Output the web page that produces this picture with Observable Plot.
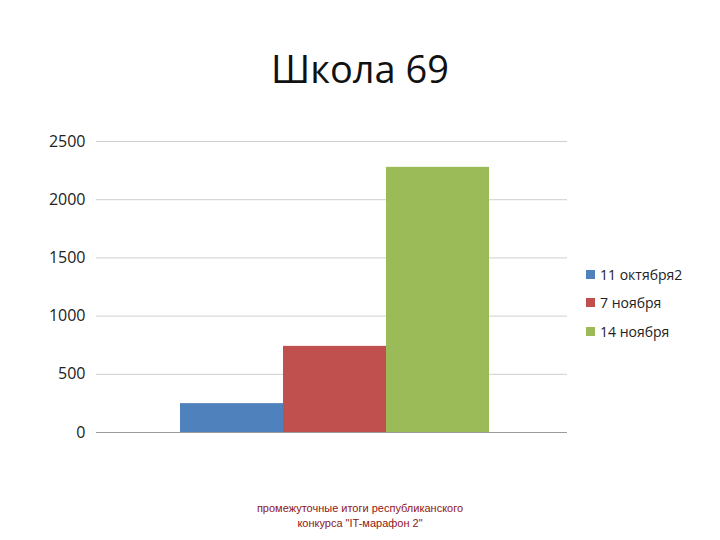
<!DOCTYPE html>
<html>
<head>
<meta charset="utf-8">
<script src="https://cdn.jsdelivr.net/npm/d3@7"></script>
<script src="https://cdn.jsdelivr.net/npm/@observablehq/plot@0.6"></script>
<style>
  html, body { margin: 0; padding: 0; background: #fff; }
  #page { position: relative; width: 720px; height: 540px; font-family: "Open Sans", "DejaVu Sans", sans-serif; }
  #title { position: absolute; left: 0; width: 720px; top: 42px; text-align: center; font-size: 38px; color: #111; }
  #chart { position: absolute; left: 0; top: 120px; }
  #legend { position: absolute; left: 586px; top: 260px; font-size: 14px; color: #222; }
  .li { display: flex; align-items: center; height: 28.5px; }
  .sw { width: 9px; height: 9px; margin-right: 5px; }
  #caption { position: absolute; left: 0; width: 720px; top: 501px; text-align: center; font-size: 11px; line-height: 15px; color: #8f1616; font-family: "Liberation Sans", Arial, sans-serif; }
</style>
</head>
<body>
<div id="page">
  <div id="title">Школа 69</div>
  <div id="chart"></div>
  <div id="legend"></div>
  <div id="caption">промежуточные итоги республиканского<br>конкурса "IT-марафон 2"</div>
</div>
<script>
const series = ["11 октября2", "7 ноября", "14 ноября"];
const values = [248, 740, 2278];
const colors = ["#4F81BD", "#C0504D", "#9BBB59"];
const yTicks = [0, 500, 1000, 1500, 2000, 2500];

const data = series.map((s, i) => ({series: s, value: values[i]}));

const chart = Plot.plot({
  width: 720,
  height: 340,
  marginTop: 21,
  marginBottom: 28,
  marginLeft: 96,
  marginRight: 153,
  style: {fontFamily: "'Open Sans', 'DejaVu Sans', sans-serif", fontSize: "16px", color: "#222", background: "transparent"},
  x: {domain: series, paddingInner: 0, paddingOuter: 0.78, align: 0.52, axis: null},
  y: {domain: [0, 2500], ticks: yTicks, label: null},
  color: {domain: series, range: colors},
  marks: [
    Plot.gridY(yTicks.filter(t => t > 0), {stroke: "#cfcfcf", strokeOpacity: 1, strokeWidth: 1}),
    Plot.axisY(yTicks, {tickSize: 0, tickPadding: 11, fontSize: 16, fill: "#222", tickFormat: d3.format("d")}),
    Plot.barY(data, {x: "series", y: "value", fill: "series"}),
    Plot.ruleY([0], {stroke: "#9a9a9a", strokeWidth: 1})
  ]
});
document.getElementById("chart").appendChild(chart);

const legend = document.getElementById("legend");
series.forEach((s, i) => {
  const row = document.createElement("div");
  row.className = "li";
  const sw = document.createElement("span");
  sw.className = "sw";
  sw.style.background = colors[i];
  const t = document.createElement("span");
  t.textContent = s;
  row.appendChild(sw);
  row.appendChild(t);
  legend.appendChild(row);
});
</script>
</body>
</html>
